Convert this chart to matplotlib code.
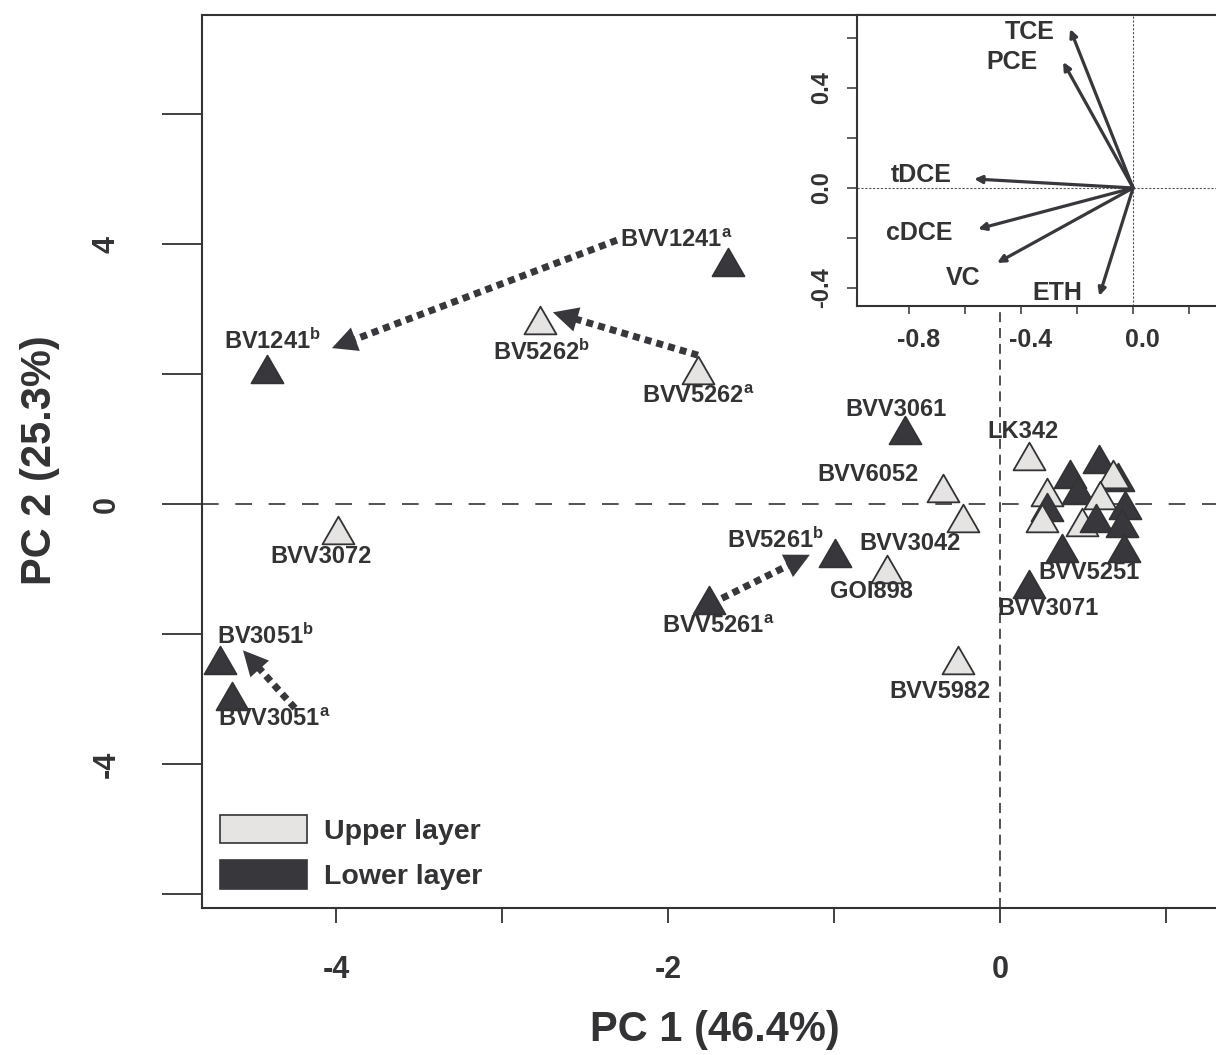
import numpy as np
import matplotlib.pyplot as plt
from matplotlib.patches import Patch
from matplotlib.path import Path
from matplotlib.transforms import ScaledTranslation

plt.rcParams['font.family'] = ['Liberation Sans', 'DejaVu Sans']
plt.rcParams['font.weight'] = 'bold'
plt.rcParams['mathtext.fontset'] = 'custom'
plt.rcParams['mathtext.rm'] = 'Liberation Sans:bold'
plt.rcParams['mathtext.it'] = 'Liberation Sans:bold'
plt.rcParams['mathtext.bf'] = 'Liberation Sans:bold'
plt.rcParams['mathtext.default'] = 'rm'

ink = '#333335'
dark = '#38373c'
light = '#e6e4e2'

# PCA scores, in drawing order (U = upper layer, L = lower layer)
pc1 = [-2.771, -1.819, -3.988, -0.343, -0.223, -0.681, -0.253, 0.175,
       -1.639, -4.416, -0.572, -0.994, -1.753, -4.699, -4.627, 0.175,
       0.596, 0.422, 0.711, 0.681, 0.470, 0.602, 0.283, 0.283, 0.253,
       0.494, 0.578, 0.753, 0.735, 0.373, 0.747]
pc2 = [2.83, 2.06, -0.40, 0.25, -0.22, -1.00, -2.40, 0.74,
       3.72, 2.08, 1.14, -0.75, -1.48, -2.40, -2.95, -1.23,
       0.69, 0.46, 0.42, 0.46, 0.22, 0.14, 0.18, -0.05, -0.22,
       -0.28, -0.22, -0.02, -0.29, -0.68, -0.68]
layer = ['U', 'U', 'U', 'U', 'U', 'U', 'U', 'U',
         'L', 'L', 'L', 'L', 'L', 'L', 'L', 'L',
         'L', 'L', 'L', 'U', 'L', 'U', 'U', 'L', 'U',
         'U', 'L', 'L', 'L', 'L', 'L']

# sample labels and where they sit
labels = ['BV5262$^{b}$', 'BVV5262$^{a}$', 'BVV3072', 'BVV6052', 'BVV3042', 'GOI898',
          'BVV5982', 'LK342', 'BVV1241$^{a}$', 'BV1241$^{b}$', 'BVV3061', 'BV5261$^{b}$',
          'BVV5261$^{a}$', 'BV3051$^{b}$', 'BVV3051$^{a}$', 'BVV3071', 'BVV5251']
lab_x = [-2.759, -1.819, -4.090, -0.795, -0.542, -0.771,
         -0.361, 0.139, -1.952, -4.380, -0.627, -1.355,
         -1.699, -4.422, -4.373, 0.289, 0.536]
lab_y = [2.34, 1.66, -0.80, 0.46, -0.60, -1.35,
         -2.88, 1.11, 4.06, 2.51, 1.45, -0.55,
         -1.89, -2.03, -3.32, -1.60, -1.06]

# shifts between paired samples (a -> b)
arr_from = [(-2.307, 4.06), (-1.819, 2.29), (-1.675, -1.45), (-4.247, -3.14)]
arr_to = [(-4.024, 2.40), (-2.693, 2.95), (-1.145, -0.78), (-4.560, -2.25)]

# loadings for the inset biplot
var_names = ['TCE', 'PCE', 'tDCE', 'cDCE', 'VC', 'ETH']
load1 = [-0.225, -0.250, -0.568, -0.554, -0.486, -0.121]
load2 = [0.636, 0.504, 0.036, -0.164, -0.300, -0.432]
var_lab_x = [-0.368, -0.432, -0.757, -0.764, -0.607, -0.271]
var_lab_y = [0.624, 0.504, 0.052, -0.180, -0.360, -0.420]

fig = plt.figure(figsize=(12.16, 10.55), dpi=100)
ax = fig.add_axes([0.1661, 0.1393, 0.8454, 0.8464])
ax.set_xlim(-4.807, 1.386)
ax.set_ylim(-6.215, 7.523)

ax.axhline(0, color=ink, lw=1.2, ls=(0, (10, 10)), zorder=1)
ax.axvline(0, color=ink, lw=1.2, ls=(0, (6, 3.5)), zorder=1)

tri = Path([(-1, -0.866), (1, -0.866), (0, 0.866), (-1, -0.866)], closed=True)
for i in range(len(pc1)):
    fc = light if layer[i] == 'U' else dark
    ax.plot(pc1[i], pc2[i], marker=tri, ms=23, mfc=fc, mec=ink, mew=1.3,
            ls='none', zorder=3 + i * 0.01)

for t, x, y in zip(labels, lab_x, lab_y):
    ax.text(x, y, t, ha='center', va='center', fontsize=17, color=ink, zorder=5)

# dotted shift arrows
for (x0, y0), (x1, y1) in zip(arr_from, arr_to):
    p0 = ax.transData.transform((x0, y0))
    p1 = ax.transData.transform((x1, y1))
    d = p1 - p0
    n = np.hypot(*d)
    pe = p1 - d / n * 18
    xe, ye = ax.transData.inverted().transform(pe)
    ax.plot([x0, xe], [y0, ye], color=dark, lw=5, ls=(0, (1, 0.75)),
            dash_capstyle='butt', zorder=4)
    ax.annotate('', xy=(x1, y1), xytext=(x0, y0),
                arrowprops=dict(arrowstyle='-|>,head_length=0.9,head_width=0.45',
                                mutation_scale=20, lw=0, fc=dark, ec='none',
                                shrinkA=0, shrinkB=0), zorder=4)

ax.set_xticks(range(-4, 2))
ax.set_xticklabels(['-4', '', '-2', '', '0', ''])
ax.set_yticks(range(-6, 7, 2))
ax.set_yticklabels(['', '-4', '', '0', '', '4', ''], rotation=90, va='center')
ax.tick_params(axis='x', direction='out', length=11, width=1.3, pad=23,
               labelsize=22, colors=ink)
ax.tick_params(axis='y', direction='out', length=29, width=1.3, pad=29,
               labelsize=22, colors=ink)
for s in ['left', 'top', 'bottom']:
    ax.spines[s].set_color(ink)
    ax.spines[s].set_linewidth(1.5)
ax.spines['right'].set_visible(False)

fig.text(0.588, 0.0237, 'PC 1 (46.4%)', ha='center', va='center', fontsize=30, color=ink)
fig.text(0.0329, 0.564, 'PC 2 (25.3%)', ha='center', va='center', fontsize=30,
         color=ink, rotation=90)

handles = [Patch(fc=light, ec=ink, lw=1.2, label='Upper layer'),
           Patch(fc=dark, ec=dark, lw=1.2, label='Lower layer')]
ax.legend(handles=handles, loc='lower left', bbox_to_anchor=(0.0175, 0.02),
          frameon=False, fontsize=20.5, handlelength=3.05, handleheight=1.15,
          handletextpad=0.6, labelspacing=0.55, borderpad=0, borderaxespad=0,
          labelcolor=ink)

# inset: variable loadings
axi = fig.add_axes([0.7048, 0.7100, 0.3067, 0.2758])
axi.set_xlim(-0.986, 0.346)
axi.set_ylim(-0.472, 0.692)
axi.set_facecolor('white')
axi.axhline(0, color='#555555', lw=0.8, ls=(0, (2, 1.5)))
axi.axvline(0, color='#555555', lw=0.8, ls=(0, (2, 1.5)))
for vx, vy in zip(load1, load2):
    axi.annotate('', xy=(vx, vy), xytext=(0, 0),
                 arrowprops=dict(arrowstyle='-|>,head_length=0.45,head_width=0.22',
                                 mutation_scale=10, lw=2.3, color=dark,
                                 shrinkA=0, shrinkB=0))
for t, x, y in zip(var_names, var_lab_x, var_lab_y):
    axi.text(x, y, t, ha='center', va='center', fontsize=18, color=ink)

axi.set_xticks([-0.8, -0.6, -0.4, -0.2, 0.0, 0.2])
axi.set_xticklabels(['-0.8', '', '-0.4', '', '0.0', ''])
axi.set_yticks([-0.4, -0.2, 0.0, 0.2, 0.4, 0.6])
axi.set_yticklabels(['-0.4', '', '0.0', '', '0.4', ''], rotation=90, va='center')
axi.tick_params(axis='x', direction='out', length=6, width=1.1, pad=10,
                labelsize=18, colors=ink)
axi.tick_params(axis='y', direction='out', length=7, width=1.1, pad=10,
                labelsize=17, colors=ink)
shift = ScaledTranslation(0.09, 0, fig.dpi_scale_trans)
for lab in axi.get_xticklabels():
    lab.set_transform(lab.get_transform() + shift)
for s in ['left', 'top', 'bottom']:
    axi.spines[s].set_color(ink)
    axi.spines[s].set_linewidth(1.5)
axi.spines['right'].set_visible(False)

fig.savefig('out.png', dpi=100)
